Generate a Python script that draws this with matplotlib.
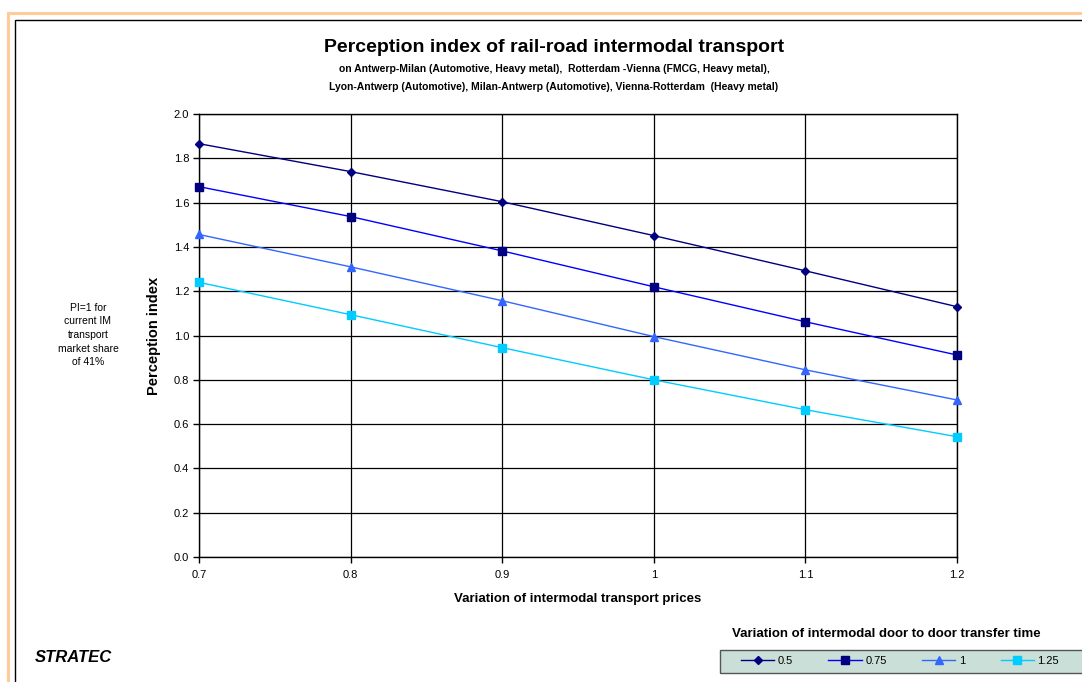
import matplotlib.pyplot as plt
from matplotlib.patches import Rectangle

plt.rcParams['font.family'] = ['Liberation Sans', 'DejaVu Sans']

# data
prices = [0.7, 0.8, 0.9, 1.0, 1.1, 1.2]
price_labels = ['0.7', '0.8', '0.9', '1', '1.1', '1.2']
pi_05 = [1.866, 1.740, 1.604, 1.451, 1.292, 1.130]
pi_075 = [1.672, 1.537, 1.382, 1.220, 1.062, 0.912]
pi_1 = [1.456, 1.310, 1.157, 0.995, 0.845, 0.709]
pi_125 = [1.240, 1.094, 0.945, 0.800, 0.665, 0.543]
series_names = ['0.5', '0.75', '1', '1.25']

W, H = 1082, 682
fig = plt.figure(figsize=(W / 100, H / 100), dpi=100)

def fx(px):
    return px / W

def fy(py):
    return 1 - py / H

# outer frames
fig.add_artist(Rectangle((fx(8), fy(700)), fx(1100), fy(13) - fy(700), transform=fig.transFigure,
                         fill=False, edgecolor='#FFCC99', linewidth=2.2))
fig.add_artist(Rectangle((fx(14.5), fy(700)), fx(1100), fy(20) - fy(700), transform=fig.transFigure,
                         fill=False, edgecolor='black', linewidth=1.0))

ax = fig.add_axes([fx(199), fy(557), fx(957) - fx(199), fy(114) - fy(557)])

kw = dict(linewidth=1.0, clip_on=False, zorder=3)
ax.plot(prices, pi_05, color='#000080', marker='D', markersize=4, label=series_names[0], **kw)
ax.plot(prices, pi_075, color='#0000FF', marker='s', markersize=5.5, markerfacecolor='#000080',
        markeredgecolor='#000080', label=series_names[1], **kw)
ax.plot(prices, pi_1, color='#3366FF', marker='^', markersize=5.5, label=series_names[2], **kw)
ax.plot(prices, pi_125, color='#00CCFF', marker='s', markersize=5.5, label=series_names[3], **kw)

ax.set_xlim(0.7, 1.2)
ax.set_ylim(0, 2.0)
ax.set_xticks(prices)
ax.set_xticklabels(price_labels)
ax.set_yticks([i / 5 for i in range(11)])
ax.set_yticklabels(['%.1f' % (i / 5) for i in range(11)])
ax.grid(True, color='black', linewidth=0.9)
ax.set_axisbelow(True)
for s in ax.spines.values():
    s.set_linewidth(1.0)
ax.tick_params(labelsize=8, length=4, width=1, pad=5, colors='black')
ax.tick_params(axis='y', pad=3)

ax.set_xlabel('Variation of intermodal transport prices', fontsize=9.5, fontweight='bold', labelpad=10)
ax.set_ylabel('Perception index', fontsize=10.5, fontweight='bold', labelpad=9)

fig.text(fx(554), fy(48), 'Perception index of rail-road intermodal transport', ha='center', va='center',
         fontsize=14, fontweight='bold')
fig.text(fx(554), fy(69), 'on Antwerp-Milan (Automotive, Heavy metal),  Rotterdam -Vienna (FMCG, Heavy metal),',
         ha='center', va='center', fontsize=7.5, fontweight='bold')
fig.text(fx(554), fy(87), 'Lyon-Antwerp (Automotive), Milan-Antwerp (Automotive), Vienna-Rotterdam  (Heavy metal)',
         ha='center', va='center', fontsize=7.5, fontweight='bold')

fig.text(fx(88), fy(335), 'PI=1 for\ncurrent IM\ntransport\nmarket share\nof 41%', ha='center', va='center',
         fontsize=7.5, linespacing=1.45)

fig.text(fx(35), fy(657), 'STRATEC', ha='left', va='center', fontsize=12, fontweight='bold',
         fontstyle='italic')

# legend
fig.text(fx(886), fy(634), 'Variation of intermodal door to door transfer time', ha='center', va='center',
         fontsize=9.5, fontweight='bold')
fig.add_artist(Rectangle((fx(720), fy(673)), fx(400), fy(650) - fy(673), transform=fig.transFigure,
                         facecolor='#CADFD7', edgecolor='#555555', linewidth=1.0))
fig.legend(loc='center left', bbox_to_anchor=(fx(741), fy(661)), ncol=4, frameon=False, fontsize=8,
           handlelength=3, columnspacing=3.2, handletextpad=0.3, borderpad=0, borderaxespad=0)

fig.savefig('out.png', dpi=100)
